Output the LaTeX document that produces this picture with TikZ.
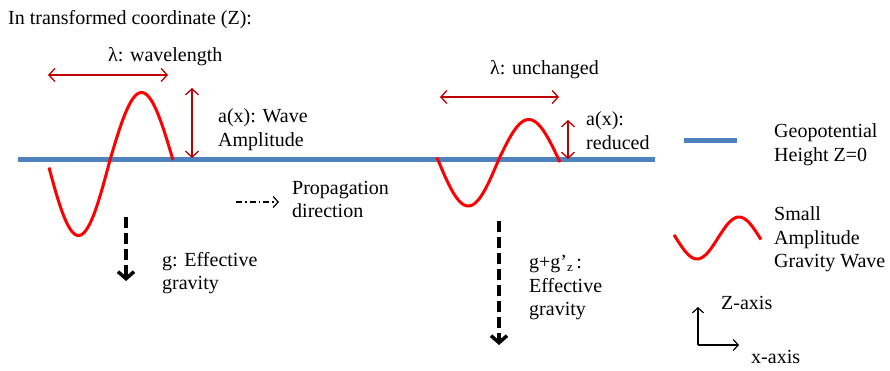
\documentclass[tikz,border=0pt]{standalone}
\usepackage{fontspec}
\setmainfont{Liberation Serif}
\usetikzlibrary{arrows.meta}
\definecolor{geoblue}{RGB}{79,129,189}
\definecolor{wavered}{RGB}{255,0,0}
\definecolor{dimred}{RGB}{192,0,0}
\begin{document}
\begin{tikzpicture}[x=1pt,y=-1pt,
  lbl/.style={anchor=base west, inner sep=0pt, align=left, font=\fontsize{20}{23.5}\selectfont},
  dimarrow/.style={draw=dimred, line width=1.3pt, {Straight Barb[length=6pt,width=13pt]}-{Straight Barb[length=6pt,width=13pt]}},
  gravarrow/.style={draw=black, line width=3.5pt, dash pattern=on 11pt off 5pt, -{Straight Barb[length=7pt,width=16pt]}},
  proparrow/.style={draw=black, line width=1.2pt, dash pattern=on 6pt off 3pt on 1.5pt off 3pt, -{Straight Barb[length=5pt,width=11pt]}},
  axisarrow/.style={draw=black, line width=1.2pt, -{Straight Barb[length=5pt,width=11pt]}},
  geoline/.style={draw=geoblue, line width=5pt},
  wave/.style={draw=wavered, line width=3pt, line join=round}]
\useasboundingbox (0,0) rectangle (890,371);

% title
\node[lbl] (title) at (8,25) {In transformed coordinate (Z):};

% geopotential line
\coordinate (gl) at (18,160);
\coordinate (gr) at (655,160);
\draw[geoline] (gl) -- (gr);

% left wave
\draw[wave, domain=49:173, samples=80, smooth]
  plot (\x, {160 + (\x<110 ? 75.5 : 67.5)*sin(2.857*(\x-47))});
% right wave
\draw[wave, domain=437:560, samples=80, smooth]
  plot (\x, {160 + (\x<498 ? 46 : 40.5)*sin(2.975*(\x-438))});

% left dimensions
\coordinate (lamLa) at (48,75);
\coordinate (lamLb) at (168,75);
\draw[dimarrow] (lamLa) -- (lamLb);
\node[lbl] (lamL) at (108,62) {λ: wavelength};
\coordinate (ampLa) at (192,88);
\coordinate (ampLb) at (192,158);
\draw[dimarrow] (ampLa) -- (ampLb);
\node[lbl] (ampL) at (218,146.5) {a(x): Wave\\Amplitude};

% right dimensions
\coordinate (lamRa) at (440,97);
\coordinate (lamRb) at (559,97);
\draw[dimarrow] (lamRa) -- (lamRb);
\node[lbl] (lamR) at (490,75) {λ: unchanged};
\coordinate (ampRa) at (568,120);
\coordinate (ampRb) at (568,159);
\draw[dimarrow] (ampRa) -- (ampRb);
\node[lbl] (ampR) at (586,149.5) {a(x):\\reduced};

% propagation
\coordinate (propa) at (236,202);
\coordinate (propb) at (279,202);
\draw[proparrow] (propa) -- (propb);
\node[lbl] (prop) at (292,218) {Propagation\\direction};

% gravity arrows
\coordinate (g1a) at (126,217);
\coordinate (g1b) at (126,281);
\draw[gravarrow] (g1a) -- (g1b);
\node[lbl] (g1) at (162,289.5) {g: Effective\\gravity};
\coordinate (g2a) at (499,221);
\coordinate (g2b) at (499,345);
\draw[gravarrow] (g2a) -- (g2b);
\node[lbl] (g2) at (529,315.5) {g+g’\raisebox{-0.3ex}{\fontsize{13}{13}\selectfont z}\,:\\Effective\\gravity};

% legend
\coordinate (lega) at (684,141);
\coordinate (legb) at (737,141);
\draw[geoline] (lega) -- (legb);
\node[lbl] (leggeo) at (774,161.5) {Geopotential\\Height Z=0};
\draw[wave, domain=674:761, samples=50, smooth]
  plot (\x, {238 + 21*cos(4.2857*(\x-697))});
\node[lbl] (legwave) at (774,267.5) {Small\\Amplitude\\Gravity Wave};

% axes
\coordinate (orig) at (698,345);
\coordinate (zend) at (698,307);
\coordinate (xend) at (739,345);
\draw[axisarrow] (orig) -- (zend);
\draw[axisarrow] (orig) -- (xend);
\node[lbl] (zax) at (721,309) {Z-axis};
\node[lbl] (xax) at (751,363) {x-axis};
\end{tikzpicture}
\end{document}
